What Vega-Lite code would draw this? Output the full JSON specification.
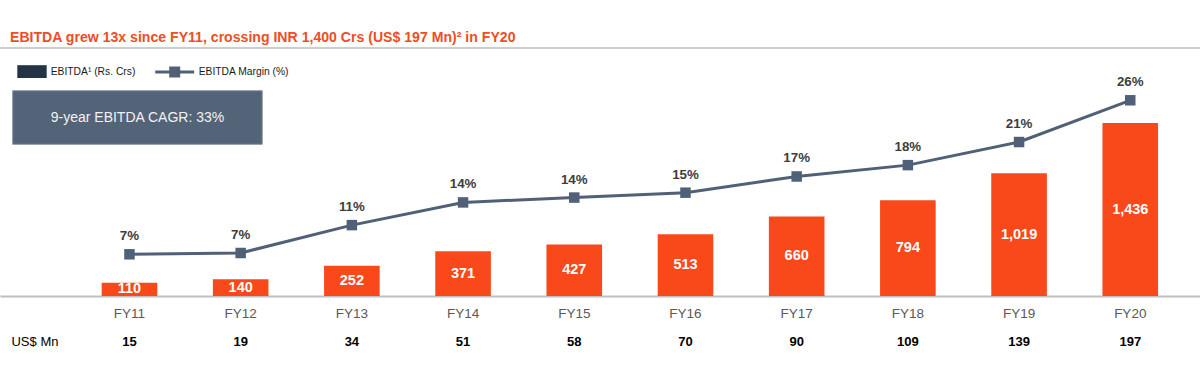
{
  "$schema": "https://vega.github.io/schema/vega-lite/v6.json",
  "width": 1200,
  "height": 248,
  "autosize": {"type": "none"},
  "padding": {"left": 0, "top": 48, "right": 0, "bottom": 70},
  "background": "white",
  "title": {
    "text": "EBITDA grew 13x since FY11, crossing INR 1,400 Crs (US$ 197 Mn)² in FY20",
    "anchor": "start",
    "frame": "group",
    "dx": 10,
    "dy": 15,
    "offset": 6,
    "baseline": "alphabetic",
    "font": "Liberation Sans",
    "fontSize": 14.1,
    "fontWeight": "bold",
    "color": "#EE4E22"
  },
  "config": {
    "view": {"stroke": null},
    "axis": {
      "grid": false,
      "ticks": false,
      "title": null,
      "domainColor": "#BFBFBF",
      "domainWidth": 2,
      "labelFont": "Liberation Sans",
      "labelFontSize": 13.5,
      "labelColor": "#595959",
      "labelPadding": 10,
      "labelAngle": 0
    }
  },
  "datasets": {
    "main": [
      {"fy": "FY11", "ebitda": 110, "margin": 7.0, "margin_label": "7%", "usd": 15},
      {"fy": "FY12", "ebitda": 140, "margin": 7.16, "margin_label": "7%", "usd": 19},
      {"fy": "FY13", "ebitda": 252, "margin": 10.6, "margin_label": "11%", "usd": 34},
      {"fy": "FY14", "ebitda": 371, "margin": 13.4, "margin_label": "14%", "usd": 51},
      {"fy": "FY15", "ebitda": 427, "margin": 14.0, "margin_label": "14%", "usd": 58},
      {"fy": "FY16", "ebitda": 513, "margin": 14.6, "margin_label": "15%", "usd": 70},
      {"fy": "FY17", "ebitda": 660, "margin": 16.6, "margin_label": "17%", "usd": 90},
      {"fy": "FY18", "ebitda": 794, "margin": 18.0, "margin_label": "18%", "usd": 109},
      {"fy": "FY19", "ebitda": 1019, "margin": 20.85, "margin_label": "21%", "usd": 139},
      {"fy": "FY20", "ebitda": 1436, "margin": 26.0, "margin_label": "26%", "usd": 197}
    ],
    "legendRows": [
      {"series": "EBITDA¹ (Rs. Crs)"},
      {"series": "EBITDA Margin (%)"}
    ]
  },
  "layer": [
    {
      "data": {"values": [{}]},
      "mark": {"type": "rule", "stroke": "#BDBDBD", "strokeWidth": 1.5},
      "encoding": {
        "y": {"datum": 2058.6, "type": "quantitative", "scale": {"domain": [0, 2058.6], "nice": false, "zero": false}, "axis": null}
      }
    },
    {
      "data": {"name": "main"},
      "mark": {"type": "bar", "color": "#F9481A"},
      "encoding": {
        "x": {
          "field": "fy", "type": "nominal", "sort": null,
          "scale": {"domain": ["FY11","FY12","FY13","FY14","FY15","FY16","FY17","FY18","FY19","FY20"], "paddingInner": 0.5, "paddingOuter": 0.6457, "align": 0.708}
        },
        "y": {"field": "ebitda", "type": "quantitative", "scale": {"domain": [0, 2058.6], "nice": false}, "axis": null}
      }
    },
    {
      "data": {"name": "main"},
      "mark": {"type": "text", "color": "#FFFFFF", "font": "Liberation Sans", "fontWeight": "bold", "fontSize": 14.5, "baseline": "middle", "align": "center"},
      "encoding": {
        "x": {"field": "fy", "type": "nominal", "sort": null},
        "y": {"field": "ebitda", "type": "quantitative", "scale": {"domain": [0, 4117.2], "nice": false}, "axis": null},
        "text": {"field": "ebitda", "type": "quantitative", "format": ","}
      }
    },
    {
      "data": {"name": "main"},
      "mark": {"type": "line", "stroke": "#506076", "strokeWidth": 3},
      "encoding": {
        "x": {"field": "fy", "type": "nominal", "sort": null},
        "y": {"field": "margin", "type": "quantitative", "scale": {"domain": [1.855, 32.45], "nice": false, "zero": false}, "axis": null}
      }
    },
    {
      "data": {"name": "main"},
      "mark": {"type": "point", "shape": "square", "filled": true, "size": 110, "color": "#506076", "opacity": 1},
      "encoding": {
        "x": {"field": "fy", "type": "nominal", "sort": null},
        "y": {"field": "margin", "type": "quantitative", "scale": {"domain": [1.855, 32.45], "nice": false, "zero": false}, "axis": null}
      }
    },
    {
      "data": {"name": "main"},
      "mark": {"type": "text", "color": "#3D3D3D", "font": "Liberation Sans", "fontWeight": "bold", "fontSize": 13.3, "baseline": "middle", "align": "center", "dy": -18},
      "encoding": {
        "x": {"field": "fy", "type": "nominal", "sort": null},
        "y": {"field": "margin", "type": "quantitative", "scale": {"domain": [1.855, 32.45], "nice": false, "zero": false}, "axis": null},
        "text": {"field": "margin_label", "type": "nominal"}
      }
    },
    {
      "data": {"name": "main"},
      "mark": {"type": "text", "color": "#000000", "font": "Liberation Sans", "fontWeight": "bold", "fontSize": 13, "baseline": "middle", "align": "center"},
      "encoding": {
        "x": {"field": "fy", "type": "nominal", "sort": null},
        "y": {"datum": -381.8, "type": "quantitative", "scale": {"domain": [0, 2058.6], "nice": false, "zero": false}, "axis": null},
        "text": {"field": "usd", "type": "quantitative"}
      }
    },
    {
      "data": {"values": [{}]},
      "mark": {"type": "text", "text": "US$ Mn", "color": "#000000", "font": "Liberation Sans", "fontSize": 13, "baseline": "middle", "align": "center", "xOffset": -94.5},
      "encoding": {
        "x": {"datum": "FY11", "type": "nominal"},
        "y": {"datum": -381.8, "type": "quantitative", "scale": {"domain": [0, 2058.6], "nice": false, "zero": false}, "axis": null}
      }
    },
    {
      "data": {"values": [{}]},
      "mark": {"type": "rect", "fill": "#546478", "stroke": "#8A97A6", "strokeWidth": 1, "xOffset": -116.8, "x2Offset": 21.6},
      "encoding": {
        "x": {"datum": "FY11", "type": "nominal"},
        "x2": {"datum": "FY12"},
        "y": {"datum": 1704, "type": "quantitative", "scale": {"domain": [0, 2058.6], "nice": false, "zero": false}, "axis": null},
        "y2": {"datum": 1259}
      }
    },
    {
      "data": {"values": [{}]},
      "mark": {"type": "text", "text": "9-year EBITDA CAGR: 33%", "color": "#F2F2F2", "font": "Liberation Sans", "fontSize": 14, "baseline": "middle", "align": "center", "xOffset": 8},
      "encoding": {
        "x": {"datum": "FY11", "type": "nominal"},
        "y": {"datum": 1477.6, "type": "quantitative", "scale": {"domain": [0, 2058.6], "nice": false, "zero": false}, "axis": null}
      }
    },
    {
      "data": {"name": "legendRows"},
      "transform": [{"filter": "false"}],
      "mark": {"type": "point", "filled": true},
      "encoding": {
        "color": {
          "field": "series", "type": "nominal",
          "scale": {"domain": ["EBITDA¹ (Rs. Crs)", "EBITDA Margin (%)"], "range": ["#243447", "#506076"]},
          "legend": {"orient": "none", "legendX": 6.7, "legendY": 3.3, "direction": "horizontal", "title": null, "symbolSize": 1600, "symbolStrokeWidth": 0, "symbolOpacity": 1, "labelFont": "Liberation Sans", "labelFontSize": 10.3, "labelColor": "#1A1A1A", "labelOffset": 4, "columnPadding": 19, "padding": 0}
        },
        "shape": {
          "field": "series", "type": "nominal",
          "scale": {"domain": ["EBITDA¹ (Rs. Crs)", "EBITDA Margin (%)"], "range": ["M-0.47,-0.32L1,-0.32L1,0.32L-0.47,0.32Z", "M-0.975,-0.075L0.975,-0.075L0.975,0.075L-0.975,0.075Z M-0.275,-0.275L0.275,-0.275L0.275,0.275L-0.275,0.275Z"]},
          "legend": {"orient": "none", "legendX": 6.7, "legendY": 3.3, "direction": "horizontal", "title": null, "symbolSize": 1600, "symbolStrokeWidth": 0, "symbolOpacity": 1, "labelFont": "Liberation Sans", "labelFontSize": 10.3, "labelColor": "#1A1A1A", "labelOffset": 4, "columnPadding": 19, "padding": 0}
        }
      }
    }
  ],
  "resolve": {"scale": {"y": "independent"}}
}
